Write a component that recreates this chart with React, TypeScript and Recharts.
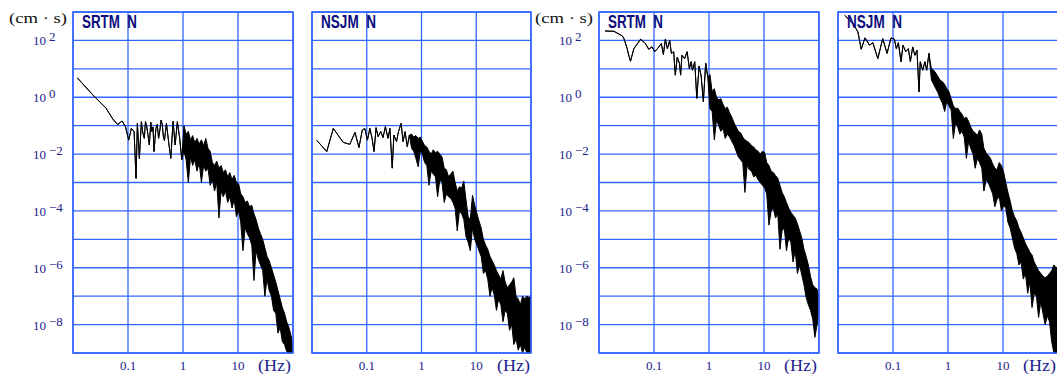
import React from 'react';
import { ComposedChart, Area, XAxis, YAxis, CartesianGrid, ReferenceArea } from 'recharts';

// ---------- axes ----------
const xTickValues = [0.01, 0.1, 1, 10, 100];
const xLabelTicks = [0.1, 1, 10];
const xLabelTexts = ['0.1', '1', '10'];
const yTickValues = [1e-9, 1e-8, 1e-7, 1e-6, 1e-5, 1e-4, 1e-3, 1e-2, 1e-1, 1, 1e1, 1e2, 1e3];
const yLabelTicks = [1e-8, 1e-6, 1e-4, 1e-2, 1, 1e2];
const yLabelExps = ['−8', '−6', '−4', '−2', '0', '2'];

// ---------- shared frequencies (Hz) of the dense high-frequency part ----------
const bandFreq = [0.50, 0.55, 0.60, 0.66, 0.72, 0.79, 0.87, 0.95, 1.04, 1.14, 1.25, 1.37, 1.50, 1.64, 1.80, 1.97, 2.16, 2.37, 2.60, 2.85,
  3.12, 3.42, 3.75, 4.11, 4.50, 4.93, 5.40, 5.92, 6.49, 7.11, 7.79, 8.54, 9.36, 10.3, 11.2, 12.3, 13.5, 14.8, 16.2, 17.8,
  19.5, 21.3, 23.4, 25.6, 28.1, 30.8, 33.7, 36.9, 40.5, 44.4, 48.6, 53.3, 58.4, 64.0, 70.1, 76.8, 84.2, 92.3, 99.5];

// ---------- panel 1 : SRTM N (left pair) ----------
const srtmALineFreq = [0.012, 0.023, 0.040, 0.053, 0.065, 0.078, 0.090, 0.103, 0.115, 0.129, 0.140, 0.148, 0.161, 0.175, 0.185, 0.198, 0.208, 0.219, 0.23, 0.244, 0.26, 0.273, 0.285, 0.297, 0.31, 0.322, 0.34, 0.36, 0.38, 0.40, 0.42, 0.44, 0.46];
const srtmALineAmp = [4.8, 1.2, 0.41, 0.17, 0.11, 0.146, 0.092, 0.031, 0.080, 0.062, 1.4e-3, 0.12, 7e-3, 0.138, 0.06, 0.036, 0.14, 0.092, 0.05, 0.021, 0.13, 0.062, 0.09, 0.0123, 0.035, 0.080, 0.11, 0.036, 0.07, 0.158, 0.11, 0.041, 0.03];
// log10 of the upper / lower edge of the spectrum at bandFreq
const srtmABandLogHigh = [-0.92, -1.6, -2.15, -0.85, -1.68, -0.86, -1.44, -2.2,
  -1.0, -1.3, -1.2, -1.5, -1.35, -1.6, -1.45, -1.65, -1.5, -1.7, -1.45, -1.8, -1.9, -2.3, -2.4, -2.25, -2.5, -2.4, -2.65, -2.55, -2.8, -2.65,
  -2.9, -2.75, -3.0, -3.05, -3.4, -3.5, -3.7, -3.65, -3.85, -3.8, -4.1, -4.3, -4.6, -4.8, -5.0, -5.3, -5.6, -5.75, -6.0, -6.25, -6.5, -6.8,
  -7.1, -7.4, -7.6, -7.9, -8.1, -8.4, -8.7];
const srtmABandLogLow = [-0.92, -1.6, -2.15, -0.85, -1.68, -0.86, -1.44, -2.2,
  -1.9, -2.2, -3.0, -2.1, -2.4, -2.2, -2.6, -2.3, -3.0, -2.4, -2.6, -2.5, -3.1, -2.9, -3.3, -3.0, -4.25, -3.3, -3.5, -3.3, -3.7, -3.5,
  -3.9, -3.6, -4.2, -4.0, -4.4, -5.4, -4.6, -4.8, -4.95, -5.2, -6.45, -5.4, -5.7, -5.9, -6.1, -7.0, -6.4, -6.8, -7.0, -7.5, -7.6, -8.3,
  -8.1, -8.6, -8.7, -8.95, -9, -9, -9];

// ---------- panel 2 : NSJM N (left pair) ----------
const nsjmALineFreq = [0.0123, 0.0186, 0.0245, 0.037, 0.049, 0.061, 0.072, 0.083, 0.092, 0.103, 0.114, 0.125, 0.136, 0.148, 0.161, 0.18, 0.198, 0.219, 0.244, 0.265, 0.292, 0.313, 0.35, 0.38, 0.425, 0.46];
const nsjmALineAmp = [0.030, 0.0123, 0.080, 0.026, 0.022, 0.058, 0.017, 0.070, 0.080, 0.031, 0.080, 0.036, 0.0123, 0.085, 0.041, 0.062, 0.038, 0.092, 0.036, 0.080, 3.2e-3, 0.047, 0.0275, 0.062, 0.12, 0.0275];
const nsjmABandLogHigh = [-1.21, -1.74, -1.33,
  -1.3, -1.4, -1.35, -1.45, -1.4, -1.55, -1.7, -1.75, -1.9, -2.0, -1.85, -1.95, -1.9, -2.0, -2.1, -2.5, -2.55, -2.8, -2.7, -2.6, -3.0, -3.3,
  -3.15, -3.2, -2.95, -3.6, -4.2, -4.3, -3.45, -3.8, -4.1, -4.35, -4.6, -5.0, -5.2, -5.35, -5.6, -5.75, -5.9, -6.1, -6.25, -6.4, -6.1, -6.5,
  -6.7, -6.6, -6.5, -6.35, -7.0, -7.1, -7.3, -7.0, -7.1, -7.0, -7.05, -7.0];
const nsjmABandLogLow = [-1.21, -1.74, -1.33,
  -1.8, -1.9, -2.15, -2.45, -1.9, -2.0, -2.3, -2.4, -3.1, -2.6, -2.7, -2.8, -3.5, -2.9, -3.0, -3.7, -3.4, -3.5, -3.55, -3.7, -3.9, -4.7,
  -4.0, -4.1, -4.3, -4.9, -5.1, -5.4, -4.6, -5.0, -5.2, -5.4, -5.6, -6.2, -6.1, -6.4, -7.0, -6.7, -6.95, -7.5, -7.1, -7.3, -7.9, -7.5,
  -7.6, -8.2, -8.0, -8.7, -8.5, -8.9, -8.7, -9, -8.8, -9, -9, -9];

// ---------- panel 3 : SRTM N (right pair) ----------
const srtmBLineFreq = [0.0129, 0.0187, 0.0264, 0.0284, 0.0326, 0.034, 0.0374, 0.043, 0.057, 0.070, 0.080, 0.092, 0.103, 0.119, 0.136, 0.148, 0.161, 0.175, 0.193, 0.207, 0.228, 0.244, 0.265, 0.29, 0.305, 0.322, 0.36, 0.40, 0.44, 0.475];
const srtmBLineAmp = [215, 209, 145, 116, 51, 35, 18.6, 51, 110, 78, 49, 59, 40, 55, 78, 32, 110, 51, 100, 35, 40, 6.0, 26, 15.5, 6.0, 30, 23, 40, 10.2, 17.8];
const srtmBBandLogHigh = [0.95, 1.25, -0.04, 1.1, 0.75, -0.16, 1.2, 0.7,
  0.8, 0.2, 0.3, 0.0, -0.1, -0.05, -0.25, -0.4, -0.35, -0.55, -0.7, -0.9, -1.05, -1.2, -1.25, -1.4, -1.5, -1.55, -1.6, -1.7, -1.75, -1.85,
  -1.9, -2.0, -1.9, -1.95, -2.3, -2.4, -2.6, -2.65, -2.75, -2.85, -3.1, -3.35, -3.5, -3.7, -3.9, -4.05, -4.15, -4.25, -4.45, -4.7, -4.95,
  -5.35, -5.6, -5.9, -6.3, -6.6, -6.7, -6.75, -7.05];
const srtmBBandLogLow = [0.95, 1.25, -0.04, 1.1, 0.75, -0.16, 1.2, 0.7,
  -0.4, -0.5, -1.5, -0.8, -1.0, -1.2, -1.1, -1.45, -1.3, -1.4, -1.55, -1.7, -1.9, -2.1, -2.2, -2.3, -3.35, -2.4, -2.55, -2.6, -2.8, -2.75,
  -2.9, -3.0, -3.1, -3.2, -3.4, -4.5, -4.0, -3.9, -4.25, -4.1, -5.35, -4.7, -4.6, -5.4, -4.95, -5.1, -5.8, -5.4, -6.2, -5.9, -6.25,
  -6.6, -7.05, -7.3, -7.5, -7.8, -8.45, -8.0, -7.6];

// ---------- panel 4 : NSJM N (right pair) ----------
const nsjmBLineFreq = [0.0132, 0.0187, 0.023, 0.0264, 0.031, 0.0374, 0.043, 0.053, 0.065, 0.078, 0.092, 0.106, 0.115, 0.125, 0.14, 0.152, 0.17, 0.19, 0.207, 0.228, 0.25, 0.273, 0.297, 0.313, 0.347, 0.38, 0.41, 0.45];
const nsjmBLineAmp = [760, 390, 200, 49, 123, 68, 83, 23, 115, 35, 123, 110, 51, 83, 17.8, 68, 40, 51, 17.8, 59, 30, 45, 1.55, 17.8, 8.9, 17.8, 8.9, 35];
const nsjmBBandLogHigh = [1.0, 0.95, 0.85, 0.72, 0.6, 0.55, 0.45, 0.3, 0.2, -0.05, -0.3, -0.4, -0.38, -0.5, -0.6, -0.75, -0.7, -0.85, -1.05, -1.2,
  -1.25, -1.35, -1.15, -1.3, -1.8, -1.95, -2.05, -2.15, -2.35, -2.5, -2.55, -2.3, -2.4, -2.65, -3.0, -3.35, -3.65, -4.0, -4.2, -4.35,
  -4.6, -4.75, -4.95, -5.15, -5.3, -5.45, -5.55, -5.8, -5.95, -6.1, -6.2, -6.3, -6.35, -6.3, -6.2, -6.1, -5.9, -6.0, -5.95];
const nsjmBBandLogLow = [0.6, 0.45, 0.3, 0.15, -0.05, -0.2, -0.5, -0.15, -0.3, -0.45, -1.45, -0.9, -1.05, -1.3, -1.2, -1.4, -2.15, -1.55, -1.8, -2.0,
  -2.5, -2.15, -2.3, -2.5, -3.3, -2.9, -3.0, -3.2, -3.4, -3.85, -3.6, -3.5, -4.0, -3.8, -3.9, -4.4, -4.6, -4.95, -5.3, -5.5,
  -5.9, -5.8, -6.4, -6.2, -6.9, -6.5, -7.4, -6.9, -7.0, -7.75, -7.2, -7.6, -8.0, -7.7, -7.9, -8.6, -9, -9, -9];

const GRID = '#3366ff';
const NAVY = '#22228c';
const TITLE = '#0c0c80';
const SERIF = '"Liberation Serif", "DejaVu Serif", serif';

const buildRows = (lf: number[], la: number[], bLo: number[], bHi: number[]) => [
  ...lf.map((f, i) => ({ f, lo: la[i], hi: la[i] })),
  ...bandFreq.map((f, i) => ({ f, lo: Math.pow(10, bLo[i]), hi: Math.pow(10, bHi[i]) })),
];

const makeYTick = (show: boolean) => (props: any) => {
  const { y, payload } = props;
  if (!show) return <g />;
  const idx = yLabelTicks.findIndex((t) => Math.abs(Math.log10(t) - Math.log10(payload.value)) < 1e-6);
  if (idx < 0) return <g />;
  return (
    <text x={33} y={y + 5} fontSize={13} fontFamily={SERIF} fill={NAVY}>
      10<tspan dx={3} dy={-4}>{yLabelExps[idx]}</tspan>
    </text>
  );
};

const XTick = (props: any) => {
  const { x, payload } = props;
  const idx = xLabelTicks.findIndex((t) => Math.abs(Math.log10(t) - Math.log10(payload.value)) < 1e-6);
  if (idx < 0) return <g />;
  return (
    <text x={x} y={370} fontSize={13} fontFamily={SERIF} fill={NAVY} textAnchor="middle">
      {xLabelTexts[idx]}
    </text>
  );
};

type PanelProps = { left: number; plotW: number; rows: any[]; showY: boolean };

const Panel = ({ left, plotW, rows, showY }: PanelProps) => (
  <div style={{ position: 'absolute', left, top: 0 }}>
    <ComposedChart width={73 + plotW + 2} height={374} data={rows} margin={{ top: 12, right: 2, bottom: 0, left: 0 }}>
      <CartesianGrid stroke={GRID} strokeWidth={1.3} />
      <XAxis dataKey="f" type="number" scale="log" domain={[0.01, 100]} ticks={xTickValues} allowDataOverflow
        axisLine={false} tickLine={false} height={21} interval={0} tick={XTick} />
      <YAxis type="number" scale="log" domain={[1e-9, 1e3]} ticks={yTickValues} allowDataOverflow
        axisLine={false} tickLine={false} width={73} interval={0} tick={makeYTick(showY)} />
      <Area type="linear" dataKey={(d: any) => [d.lo, d.hi]} stroke="#000" strokeWidth={1} fill="#000" fillOpacity={1}
        isAnimationActive={false} dot={false} activeDot={false} />
      <ReferenceArea x1={0.01} x2={100} y1={1e-9} y2={1e3} fill="none" stroke={GRID} strokeWidth={1.5} ifOverflow="visible" />
    </ComposedChart>
  </div>
);

const panels = [
  { left: 0, plotW: 220, rows: buildRows(srtmALineFreq, srtmALineAmp, srtmABandLogLow, srtmABandLogHigh), showY: true, name: 'SRTM\u00a0\u00a0N', px: 73 },
  { left: 239, plotW: 219, rows: buildRows(nsjmALineFreq, nsjmALineAmp, nsjmABandLogLow, nsjmABandLogHigh), showY: false, name: 'NSJM\u00a0\u00a0N', px: 312 },
  { left: 526, plotW: 220, rows: buildRows(srtmBLineFreq, srtmBLineAmp, srtmBBandLogLow, srtmBBandLogHigh), showY: true, name: 'SRTM\u00a0\u00a0N', px: 599 },
  { left: 765, plotW: 220, rows: buildRows(nsjmBLineFreq, nsjmBLineAmp, nsjmBBandLogLow, nsjmBBandLogHigh), showY: false, name: 'NSJM\u00a0\u00a0N', px: 838 },
];

export default function App() {
  return (
    <div style={{ position: 'absolute', left: 0, top: 0, width: 1057, height: 374, overflow: 'hidden', background: '#fff' }}>
      {panels.map((p, i) => (
        <Panel key={i} left={p.left} plotW={p.plotW} rows={p.rows} showY={p.showY} />
      ))}
      <svg width={1057} height={374} style={{ position: 'absolute', left: 0, top: 0, pointerEvents: 'none' }}>
        {panels.map((p, i) => (
          <g key={i}>
            <text x={p.px + 9} y={28} fontSize={18} fontWeight="bold" fontFamily='"Liberation Sans", Arial, sans-serif'
              fill={TITLE} textLength={55} lengthAdjust="spacingAndGlyphs">{p.name}</text>
            <text x={p.px + 185} y={371} fontSize={16} fontFamily={SERIF} fill={NAVY}
              textLength={33} lengthAdjust="spacingAndGlyphs">(Hz)</text>
            {p.showY && (
              <text x={p.px - 64} y={23} fontSize={15} fontFamily={SERIF} fill="#111"
                textLength={58} lengthAdjust="spacingAndGlyphs">(cm · s)</text>
            )}
          </g>
        ))}
      </svg>
    </div>
  );
}
